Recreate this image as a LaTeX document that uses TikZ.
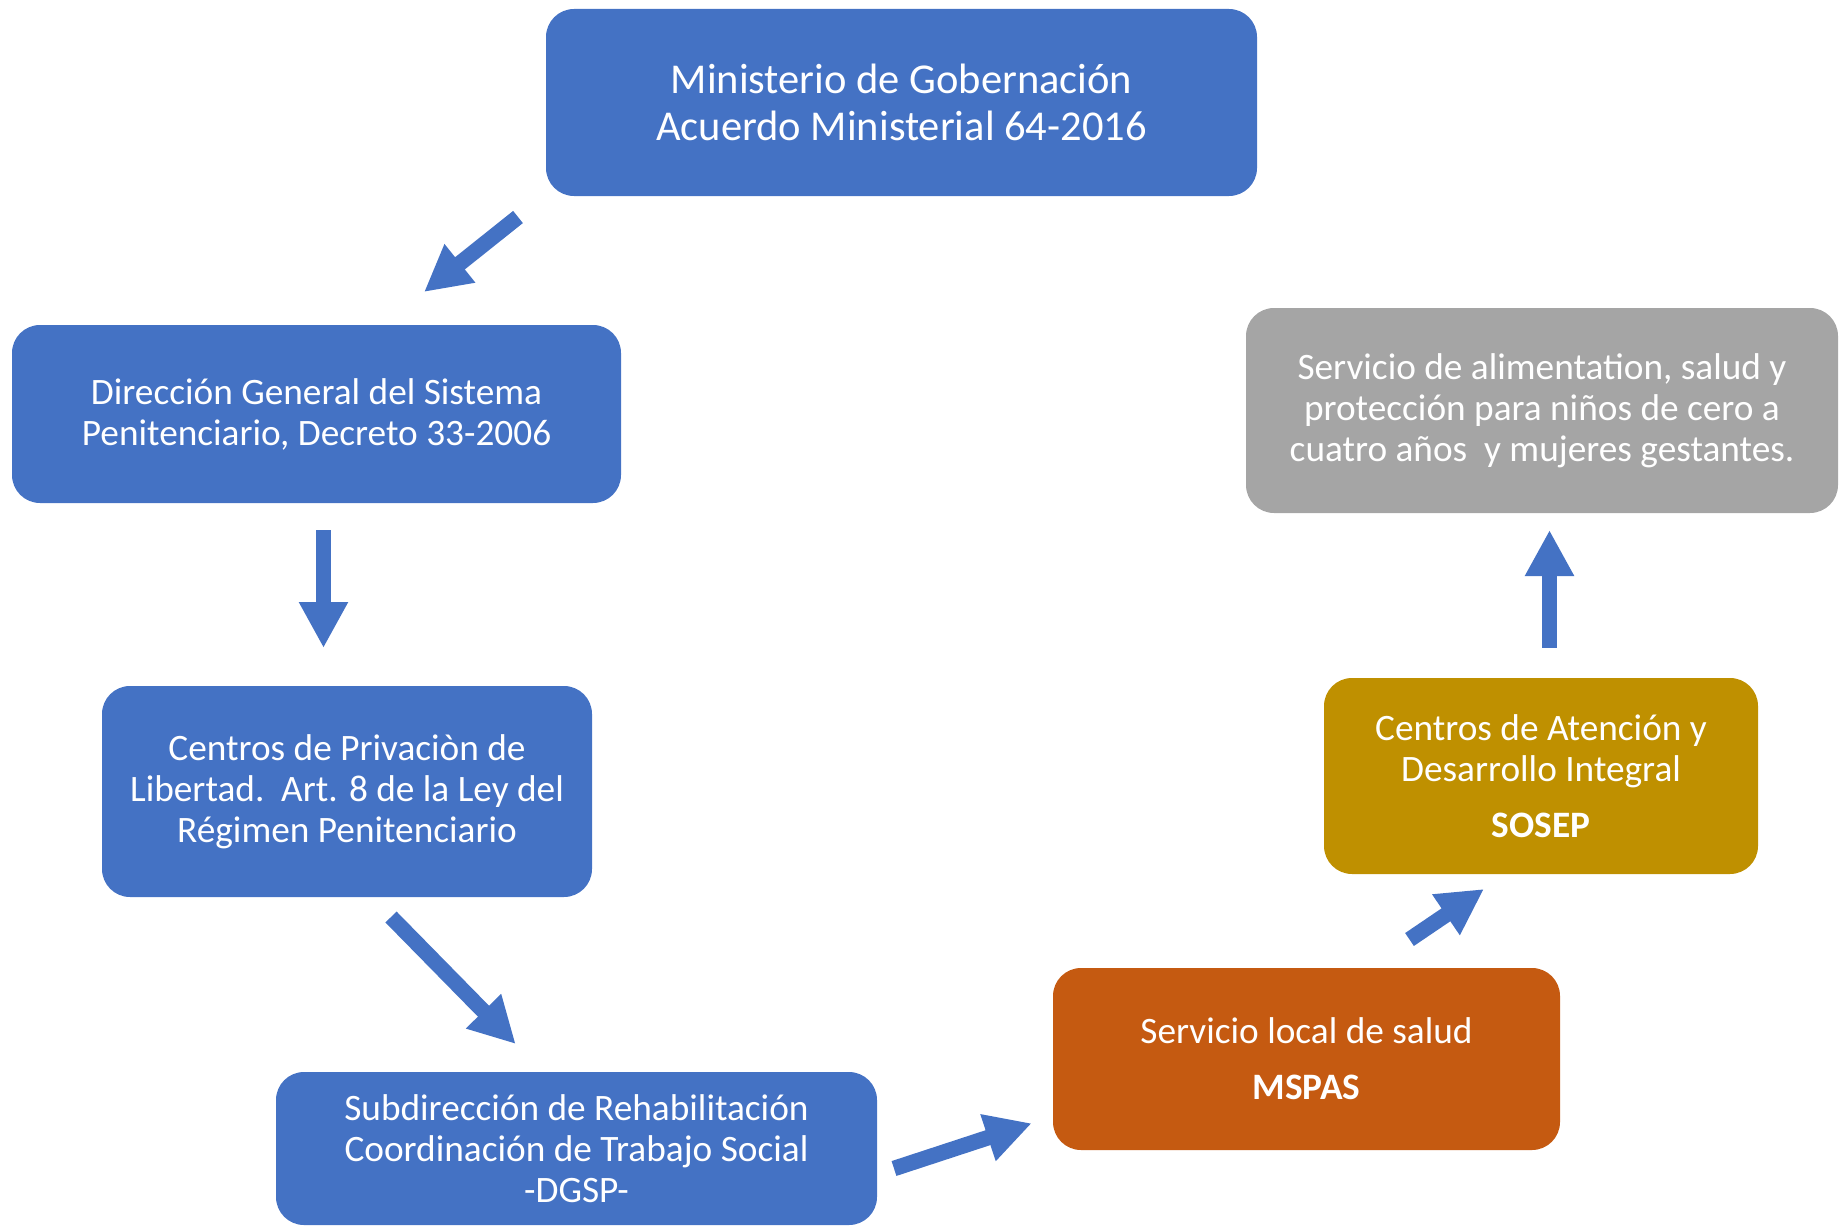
\documentclass[tikz,border=0pt]{standalone}
\usepackage{fontspec}
\setmainfont{Carlito}
\usetikzlibrary{arrows.meta}
\definecolor{cblue}{HTML}{4472C4}
\definecolor{cgray}{HTML}{A5A5A5}
\definecolor{corange}{HTML}{C55A11}
\definecolor{cgold}{HTML}{BF9000}
\begin{document}
\begin{tikzpicture}[x=1pt,y=-1pt,
  box/.style={rounded corners=28pt, text=white, align=center, inner sep=0pt, anchor=center},
  bigtext/.style={font=\fontsize{42.5}{47}\selectfont},
  midtext/.style={font=\fontsize{37.3}{41}\selectfont},
  blockarrow/.style={draw=cblue, line width=15.6pt, -{Triangle[width=46pt,length=46pt]}, cblue}]
\useasboundingbox (0,0) rectangle (1839,1228);
% boxes
\node[box, bigtext, fill=cblue, minimum width=711pt, minimum height=187pt] (gob) at (901.5,102.5)
  {Ministerio de Gobernación\\Acuerdo Ministerial 64-2016};
\node[box, midtext, fill=cblue, minimum width=609pt, minimum height=178pt] (dgsp) at (316.5,414)
  {Dirección General del Sistema\\Penitenciario, Decreto 33-2006};
\node[box, midtext, fill=cblue, minimum width=490pt, minimum height=211pt] (cpl) at (347,791.5)
  {Centros de Privaciòn de\\Libertad.\ \ Art. 8 de la Ley del\\Régimen Penitenciario};
\node[box, midtext, fill=cblue, minimum width=601pt, minimum height=153pt] (sub) at (576.5,1148.5)
  {Subdirección de Rehabilitación\\Coordinación de Trabajo Social\\-DGSP-};
\node[box, midtext, fill=corange, minimum width=507pt, minimum height=182pt] (msp) at (1306.5,1059)
  {Servicio local de salud\\[15pt]\textbf{MSPAS}};
\node[box, midtext, fill=cgold, minimum width=434pt, minimum height=196pt] (sos) at (1541,776)
  {Centros de Atención y\\Desarrollo Integral\\[15pt]\textbf{SOSEP}};
\node[box, midtext, fill=cgray, minimum width=592pt, minimum height=205pt] (ser) at (1542,410.5)
  {Servicio de alimentation, salud y\\protección para niños de cero a\\cuatro años\ \ y mujeres gestantes.};
% arrow end points
\coordinate (a1s) at (518,217); \coordinate (a1e) at (424,292);
\coordinate (a2s) at (323.5,530); \coordinate (a2e) at (323.5,648);
\coordinate (a3s) at (391,917); \coordinate (a3e) at (515.7,1044);
\coordinate (a4s) at (894,1168.5); \coordinate (a4e) at (1031.7,1123.3);
\coordinate (a5s) at (1409.5,939.5); \coordinate (a5e) at (1484,889);
\coordinate (a6s) at (1549.5,647.7); \coordinate (a6e) at (1549.5,530);
\draw[blockarrow] (a1s) -- (a1e);
\draw[blockarrow] (a2s) -- (a2e);
\draw[blockarrow] (a3s) -- (a3e);
\draw[blockarrow] (a4s) -- (a4e);
\draw[blockarrow] (a5s) -- (a5e);
\draw[blockarrow] (a6s) -- (a6e);
\end{tikzpicture}
\end{document}
